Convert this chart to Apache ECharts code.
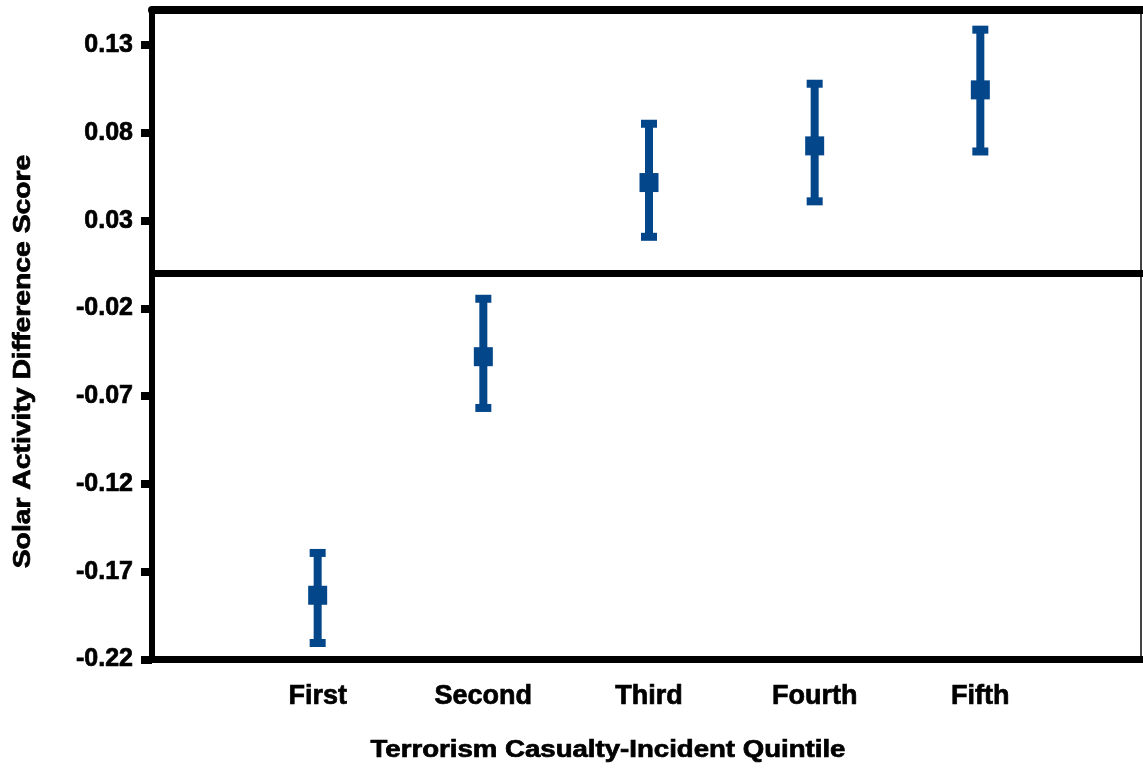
<!DOCTYPE html>
<html>
<head>
<meta charset="utf-8">
<style>
  html, body { margin: 0; padding: 0; background: #ffffff; }
  #chart { width: 1143px; height: 771px; }
</style>
<script src="https://cdn.jsdelivr.net/npm/echarts@6/dist/echarts.min.js"></script>
</head>
<body>
<div id="chart"></div>
<script>
const categories = ['First', 'Second', 'Third', 'Fourth', 'Fifth'];
const means = [-0.1834, -0.0475, 0.0517, 0.0726, 0.1045];
const upper = [-0.1593, -0.0145, 0.0852, 0.1080, 0.1388];
const lower = [-0.2106, -0.0767, 0.0208, 0.0410, 0.0694];
const yTicks = [-0.22, -0.17, -0.12, -0.07, -0.02, 0.03, 0.08, 0.13];
const xTitle = 'Terrorism Casualty-Incident Quintile';
const yTitle = 'Solar Activity Difference Score';

const BLUE = '#03468a';
const FONT = 'Liberation Sans';

const chart = echarts.init(document.getElementById('chart'), null, { renderer: 'canvas' });

const meanData = means.map((v, i) => [i + 1, v]);
const errData = categories.map((c, i) => [i + 1, lower[i], upper[i]]);

const option = {
  animation: false,
  backgroundColor: '#ffffff',
  grid: { left: 152, width: 994, top: 10, bottom: 111.5, containLabel: false, outerBoundsMode: 'none' },
  xAxis: [
    {
      type: 'value', min: 0, max: 6, interval: 1, position: 'bottom',
      axisLine: { show: true, onZero: false, lineStyle: { color: '#000', width: 7 } },
      axisTick: { show: false },
      splitLine: { show: false },
      axisLabel: {
        margin: 24, color: '#000', fontFamily: FONT, fontWeight: 'bold', fontSize: 27,
        textBorderColor: '#000', textBorderWidth: 0.7,
        formatter: v => (v >= 1 && v <= categories.length) ? categories[v - 1] : ''
      }
    },
    {
      type: 'value', min: 0, max: 6, position: 'top',
      axisLine: { show: true, onZero: false, lineStyle: { color: '#000', width: 8 } },
      axisTick: { show: false }, axisLabel: { show: false }, splitLine: { show: false }
    }
  ],
  yAxis: [
    {
      type: 'value', min: -0.22, max: 0.15, position: 'left',
      axisLine: { show: true, onZero: false, lineStyle: { color: '#000', width: 6 } },
      axisTick: { show: true, customValues: yTicks, length: 11, lineStyle: { color: '#000', width: 8 } },
      splitLine: { show: false },
      axisLabel: {
        customValues: yTicks, margin: 19, color: '#000', fontFamily: FONT, fontWeight: 'bold', fontSize: 25,
        textBorderColor: '#000', textBorderWidth: 0.7,
        formatter: v => v.toFixed(2)
      }
    },
    {
      type: 'value', min: -0.22, max: 0.15, position: 'right', offset: -5,
      axisLine: { show: true, onZero: false, lineStyle: { color: '#444', width: 2 } },
      axisTick: { show: false }, axisLabel: { show: false }, splitLine: { show: false }
    }
  ],
  series: [
    {
      type: 'custom',
      name: 'error',
      xAxisIndex: 0, yAxisIndex: 0,
      data: errData,
      encode: { x: 0, y: [1, 2] },
      renderItem: function (params, api) {
        const x = api.value(0);
        const lo = api.coord([x, api.value(1)]);
        const hi = api.coord([x, api.value(2)]);
        const capW = 16, capH = 8, lw = 8;
        return {
          type: 'group',
          children: [
            { type: 'rect', shape: { x: lo[0] - lw / 2, y: hi[1], width: lw, height: lo[1] - hi[1] }, style: { fill: BLUE } },
            { type: 'rect', shape: { x: hi[0] - capW / 2, y: hi[1] - capH / 2, width: capW, height: capH }, style: { fill: BLUE } },
            { type: 'rect', shape: { x: lo[0] - capW / 2, y: lo[1] - capH / 2, width: capW, height: capH }, style: { fill: BLUE } }
          ]
        };
      },
      z: 3
    },
    {
      type: 'scatter',
      name: 'mean',
      xAxisIndex: 0, yAxisIndex: 0,
      data: meanData,
      symbol: 'rect',
      symbolSize: 19,
      itemStyle: { color: BLUE, opacity: 1 },
      z: 4,
      markLine: {
        silent: true,
        symbol: ['none', 'none'],
        label: { show: false },
        lineStyle: { color: '#000', width: 7, type: 'solid' },
        data: [{ yAxis: 0 }],
        z: 2
      }
    }
  ],
  graphic: [
    {
      type: 'text', x: 608, y: 751, scaleX: 1.2,
      style: { text: xTitle, font: 'bold 23px "Liberation Sans"', fill: '#000', stroke: '#000', lineWidth: 0.7, textAlign: 'center', textVerticalAlign: 'middle' }
    },
    {
      type: 'text', x: 24, y: 361.5, rotation: Math.PI / 2, scaleX: 1.23,
      style: { text: yTitle, font: 'bold 23px "Liberation Sans"', fill: '#000', stroke: '#000', lineWidth: 0.7, textAlign: 'center', textVerticalAlign: 'middle' }
    }
  ]
};

chart.setOption(option);
</script>
</body>
</html>
